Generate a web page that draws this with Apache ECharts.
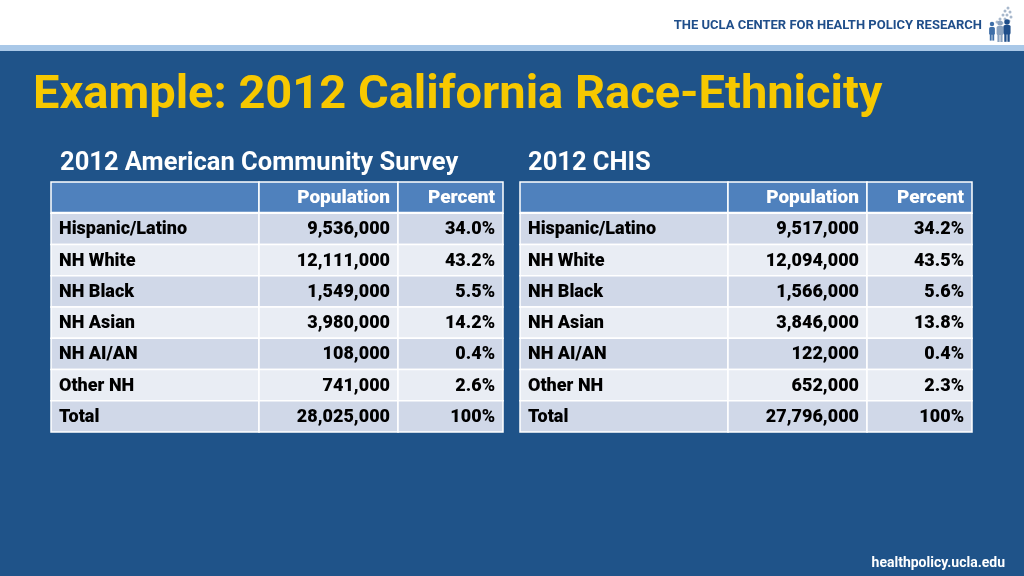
<!DOCTYPE html>
<html><head><meta charset="utf-8">
<script src="https://cdn.jsdelivr.net/npm/echarts@6/dist/echarts.min.js"></script>
<style>html,body{margin:0;padding:0;background:#1f5389}#c{width:1024px;height:576px}</style>
</head><body><div id="c"></div>
<script>
// ---- data ----
const groups = ['Hispanic/Latino', 'NH White', 'NH Black', 'NH Asian', 'NH AI/AN', 'Other NH', 'Total'];
const acsPopulation = [9536000, 12111000, 1549000, 3980000, 108000, 741000, 28025000];
const acsPercent = [34.0, 43.2, 5.5, 14.2, 0.4, 2.6, 100];
const chisPopulation = [9517000, 12094000, 1566000, 3846000, 122000, 652000, 27796000];
const chisPercent = [34.2, 43.5, 5.6, 13.8, 0.4, 2.3, 100];
const columnHeaders = ['', 'Population', 'Percent'];
const tableTitles = ['2012 American Community Survey', '2012 CHIS'];
const mainTitle = 'Example: 2012 California Race-Ethnicity';
const orgName = 'THE UCLA CENTER FOR HEALTH POLICY RESEARCH';
const siteUrl = 'healthpolicy.ucla.edu';

// ---- layout / style ----
const FONT = 'Roboto';
const tableLefts = [51, 520];
const colWidths = [208, 139, 105];
const tableTop = 182, tableHeight = 250;
const rowCats = ['header'].concat(groups);

const fmtPop = v => v.toLocaleString('en-US');
const fmtPct = v => (v === 100 ? '100' : v.toFixed(1)) + '%';

const tables = [
  [groups, acsPopulation.map(fmtPop), acsPercent.map(fmtPct)],
  [groups, chisPopulation.map(fmtPop), chisPercent.map(fmtPct)]
];

const grids = [], xAxes = [], yAxes = [], series = [];
tables.forEach((cols, t) => {
  let left = tableLefts[t];
  cols.forEach((colVals, c) => {
    const gi = grids.length;
    grids.push({left: left, top: tableTop, width: colWidths[c], height: tableHeight, containLabel: false});
    xAxes.push({type: 'value', gridIndex: gi, min: 0, max: 1, show: false});
    yAxes.push({type: 'category', gridIndex: gi, data: rowCats, inverse: true, show: false});
    const texts = [columnHeaders[c]].concat(colVals);
    series.push({
      type: 'custom', xAxisIndex: gi, yAxisIndex: gi, silent: true,
      data: rowCats.map((_, r) => [0, r]),
      renderItem: function (params, api) {
        const r = api.value(1);
        const p0 = api.coord([0, r]), p1 = api.coord([1, r]);
        const h = api.size([0, 1])[1];
        const x = p0[0], w = p1[0] - p0[0], y = p0[1] - h / 2;
        const isHeader = r === 0;
        const fill = isHeader ? '#4f81bd' : (r % 2 === 1 ? '#d0d8e8' : '#e9edf4');
        const children = [
          {type: 'rect', shape: {x: x, y: y, width: w, height: h},
           style: {fill: fill, stroke: '#ffffff', lineWidth: 1.5}},
          {type: 'text', style: {
            text: texts[r],
            x: c === 0 ? x + 8 : x + w - 8, y: y + h / 2 + 1,
            align: c === 0 ? 'left' : 'right', verticalAlign: 'middle',
            font: (isHeader ? '900 19px ' : '900 18px ') + FONT, fill: isHeader ? '#ffffff' : '#000000'}}
        ];
        if (isHeader) {
          children.push({type: 'line', shape: {x1: x, y1: y + h, x2: x + w, y2: y + h},
            style: {stroke: '#ffffff', lineWidth: 3}});
        }
        return {type: 'group', children: children};
      }
    });
    left += colWidths[c];
  });
});

// logo figures (decoration)
const logo = [];
const dots = [[1008,8],[1005,11],[1010,12],[1003,15],[1007,15],[1011,17],[1000,19],[1005,19],[1009,21],[997,22],[1002,23]];
dots.forEach(d => logo.push({type:'circle', shape:{cx:d[0], cy:d[1], r:1.5}, style:{fill:'#a8b8cc'}}));
const figs = [[992,27,'#3f6fa8',0.85],[1000,26,'#8aa2bf',1],[1007,25,'#1f4e8a',1.05]];
figs.forEach(f => {
  logo.push({type:'circle', shape:{cx:f[0], cy:f[1]-3, r:2.6*f[3]}, style:{fill:f[2]}});
  logo.push({type:'rect', shape:{x:f[0]-3.4*f[3], y:f[1], width:6.8*f[3], height:9*f[3], r:1.5}, style:{fill:f[2]}});
  logo.push({type:'rect', shape:{x:f[0]-2.6*f[3], y:f[1]+8*f[3], width:2.2*f[3], height:8*f[3]}, style:{fill:f[2]}});
  logo.push({type:'rect', shape:{x:f[0]+0.4*f[3], y:f[1]+8*f[3], width:2.2*f[3], height:8*f[3]}, style:{fill:f[2]}});
});

const chart = echarts.init(document.getElementById('c'), null, {renderer: 'canvas'});
chart.setOption({
  backgroundColor: '#1f5389',
  animation: false,
  grid: grids, xAxis: xAxes, yAxis: yAxes, series: series,
  graphic: [
    {type: 'rect', shape: {x: 0, y: 0, width: 1024, height: 45}, style: {fill: '#ffffff'}, z: -1},
    {type: 'rect', shape: {x: 0, y: 45, width: 1024, height: 6}, style: {fill: '#a9c8e8'}, z: -1},
    {type: 'text', style: {text: orgName, x: 982, y: 26, align: 'right', verticalAlign: 'middle',
      font: 'bold 13px ' + FONT, fill: '#1f4e8a'}},
    {type: 'group', children: logo},
    {type: 'text', style: {text: mainTitle, x: 33, y: 96, align: 'left', verticalAlign: 'middle',
      font: 'bold 47px ' + FONT, fill: '#f7c800'}},
    {type: 'text', style: {text: tableTitles[0], x: 60, y: 164, align: 'left', verticalAlign: 'middle',
      font: 'bold 25.5px ' + FONT, fill: '#ffffff'}},
    {type: 'text', style: {text: tableTitles[1], x: 528, y: 164, align: 'left', verticalAlign: 'middle',
      font: 'bold 25.5px ' + FONT, fill: '#ffffff'}},
    {type: 'text', style: {text: siteUrl, x: 1005, y: 563, align: 'right', verticalAlign: 'middle',
      font: 'bold 14px ' + FONT, fill: '#ffffff'}}
  ]
});
</script></body></html>
